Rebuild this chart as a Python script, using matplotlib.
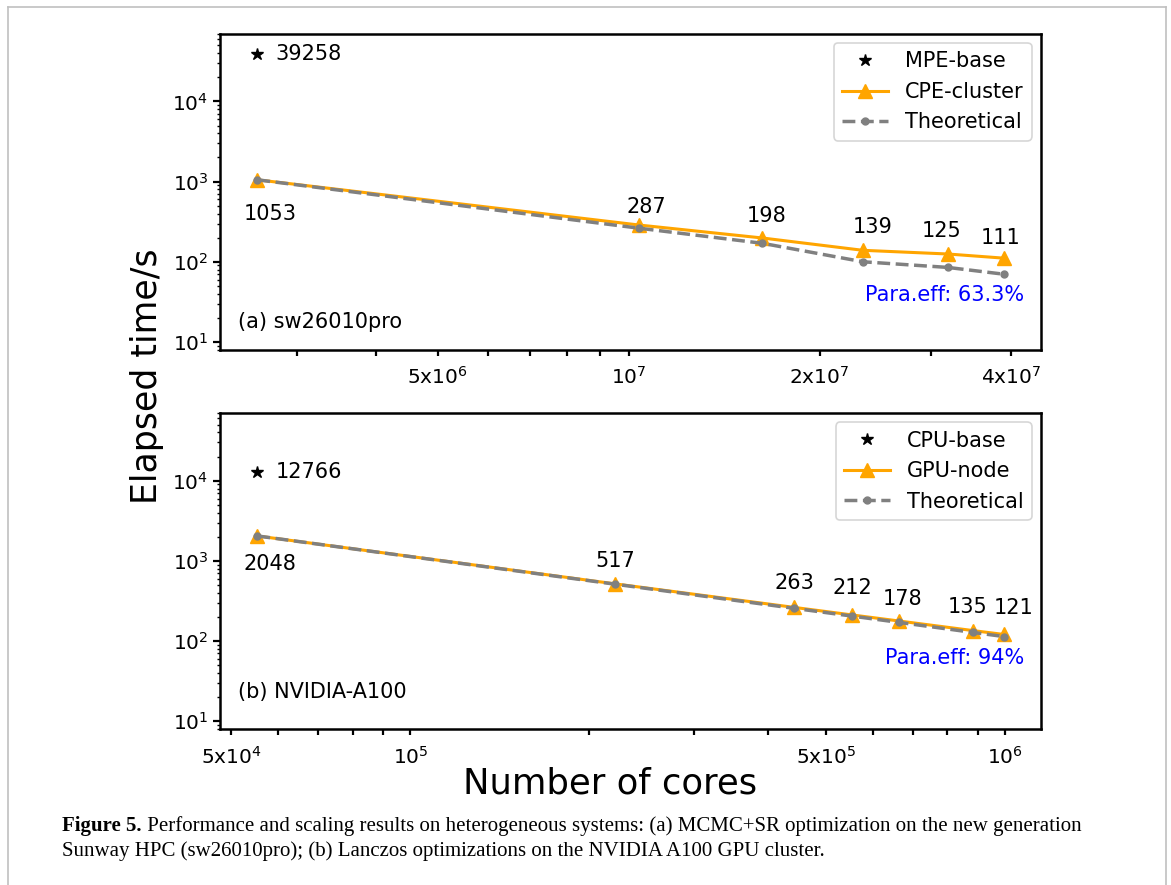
import matplotlib
matplotlib.use("Agg")
import matplotlib.pyplot as plt
from matplotlib.ticker import FixedLocator, FixedFormatter, NullFormatter
from matplotlib.lines import Line2D

# ---------------- data ----------------
sw_cores = [2.6e6, 1.04e7, 1.625e7, 2.34e7, 3.185e7, 3.9e7]
sw_cpe = [1053, 287, 198, 139, 125, 111]
sw_theory = [1053, 262, 170, 100, 85, 70]
sw_base = 39258

gpu_cores = [55296, 221184, 442368, 552960, 663552, 884736, 995328]
gpu_node = [2048, 517, 263, 212, 178, 135, 121]
gpu_theory = [2048, 512, 256, 205, 171, 128, 114]
gpu_base = 12766

sw_xticks = [5e6, 1e7, 2e7, 4e7]
sw_xticklabels = [r"$\mathdefault{5x10^{6}}$", r"$\mathdefault{10^{7}}$",
                  r"$\mathdefault{2x10^{7}}$", r"$\mathdefault{4x10^{7}}$"]
sw_xminor = [3e6, 4e6, 6e6, 7e6, 8e6, 9e6, 3e7]
gpu_xticks = [5e4, 1e5, 5e5, 1e6]
gpu_xticklabels = [r"$\mathdefault{5x10^{4}}$", r"$\mathdefault{10^{5}}$",
                   r"$\mathdefault{5x10^{5}}$", r"$\mathdefault{10^{6}}$"]
gpu_xminor = [6e4, 7e4, 8e4, 9e4, 2e5, 3e5, 4e5, 6e5, 7e5, 8e5, 9e5]

# label offsets (pixels) for value annotations
sw_off = [(13, -34), (7, 18), (4, 22), (10, 23), (-6, 23), (-3, 20)]
gpu_off = [(13, -28), (0, 23), (0, 24), (0, 27), (4, 22), (-6, 24), (10, 26)]

FS = 15
TFS = 14.5
ORANGE = "#ffa500"
GRAY = "#808080"

W, H = 1171, 885
fig = plt.figure(figsize=(W / 100, H / 100), dpi=100)
fig.patch.set_facecolor("white")


def fx(px):
    return px / W


def fy(py):
    return 1 - py / H


axL, axR = 220, 1041
ax1 = fig.add_axes([fx(axL), fy(349.7), fx(axR - axL), (349.7 - 33.7) / H])
ax2 = fig.add_axes([fx(axL), fy(729), fx(axR - axL), (729 - 413) / H])


def style(ax, xt, xtl, xminor):
    ax.set_xscale("log")
    ax.set_yscale("log")
    ax.set_ylim(8, 7e4)
    ax.xaxis.set_major_locator(FixedLocator(xt))
    ax.xaxis.set_major_formatter(FixedFormatter(xtl))
    ax.xaxis.set_minor_locator(FixedLocator(xminor))
    ax.xaxis.set_minor_formatter(NullFormatter())
    for s in ax.spines.values():
        s.set_linewidth(1.8)
    ax.tick_params(axis="x", which="both", length=4, width=1.6, labelsize=TFS, pad=8)
    ax.tick_params(axis="y", which="major", length=5, width=1.6, labelsize=TFS)
    ax.tick_params(axis="y", which="minor", length=2.5, width=1.0)


def panel(ax, x, y, th, base, base_lab, main_lab, off, tag, eff, effy):
    ax.plot([x[0]], [base], linestyle="none", marker="*", color="black", markersize=9,
            label=base_lab)
    ax.plot(x, y, color=ORANGE, linewidth=2.2, marker="^", markersize=10, label=main_lab)
    ax.plot(x, th, color=GRAY, linewidth=2.5, linestyle="--", marker="o", markersize=5,
            label="Theoretical")
    ax.annotate(str(base), (x[0], base), xytext=(18, 0), textcoords="offset pixels",
                ha="left", va="center", fontsize=FS)
    for xi, yi, (dx, dy) in zip(x, y, off):
        ax.annotate(str(yi), (xi, yi), xytext=(dx, dy), textcoords="offset pixels",
                    ha="center", va="center", fontsize=FS)
    ax.text(0.022, tag[1], tag[0], transform=ax.transAxes, fontsize=FS,
            ha="left", va="center")
    ax.text(0.98, effy, eff, transform=ax.transAxes, fontsize=FS, color="blue",
            ha="right", va="center")
    leg = ax.legend(loc="upper right", fontsize=FS, framealpha=0.8, borderpad=0.4,
                    handlelength=2.2, labelspacing=0.5, borderaxespad=0.45)
    leg.get_frame().set_linewidth(1.2)


style(ax1, sw_xticks, sw_xticklabels, sw_xminor)
style(ax2, gpu_xticks, gpu_xticklabels, gpu_xminor)
panel(ax1, sw_cores, sw_cpe, sw_theory, sw_base, "MPE-base", "CPE-cluster", sw_off,
      ("(a) sw26010pro", 0.088), "Para.eff: 63.3%", 0.173)
panel(ax2, gpu_cores, gpu_node, gpu_theory, gpu_base, "CPU-base", "GPU-node", gpu_off,
      ("(b) NVIDIA-A100", 0.116), "Para.eff: 94%", 0.224)

fig.text(fx(147), fy(376), "Elapsed time/s", rotation=90, fontsize=25,
         ha="center", va="center")
fig.text(fx(610), fy(783), "Number of cores", fontsize=25.5, ha="center", va="center")

# page border
bc = "#c0c0c0"
for xs, ys in [((8, 8), (7, H + 5)), ((8, 1166), (7, 7)), ((1166, 1166), (7, H + 5))]:
    fig.add_artist(Line2D([fx(v) for v in xs], [fy(v) for v in ys], color=bc,
                          linewidth=1.2, transform=fig.transFigure))

# caption (fit line 1 to its width in the reference)
serif = ["Liberation Serif", "DejaVu Serif"]
line1_rest = " Performance and scaling results on heterogeneous systems: (a) MCMC+SR optimization on the new generation"
line2 = "Sunway HPC (sw26010pro); (b) Lanczos optimizations on the NVIDIA A100 GPU cluster."
x0, x1 = 62, 1078
fig.canvas.draw()
r = fig.canvas.get_renderer()
cap_fs = 13.0
tb = fig.text(0, 0, "Figure 5.", fontsize=cap_fs, fontweight="bold", family=serif)
tr = fig.text(0, 0, line1_rest, fontsize=cap_fs, family=serif)
wsum = tb.get_window_extent(r).width + tr.get_window_extent(r).width
tb.remove()
tr.remove()
cap_fs = cap_fs * (x1 - x0) / wsum

t_b = fig.text(fx(x0), fy(831), "Figure 5.", fontsize=cap_fs, fontweight="bold",
               family=serif, ha="left", va="baseline")
bb = t_b.get_window_extent(r)
fig.text(bb.x1 / W, fy(831), line1_rest, fontsize=cap_fs, family=serif,
         ha="left", va="baseline")
fig.text(fx(x0), fy(856), line2, fontsize=cap_fs, family=serif,
         ha="left", va="baseline")

fig.savefig("out.png", dpi=100, facecolor="white")
